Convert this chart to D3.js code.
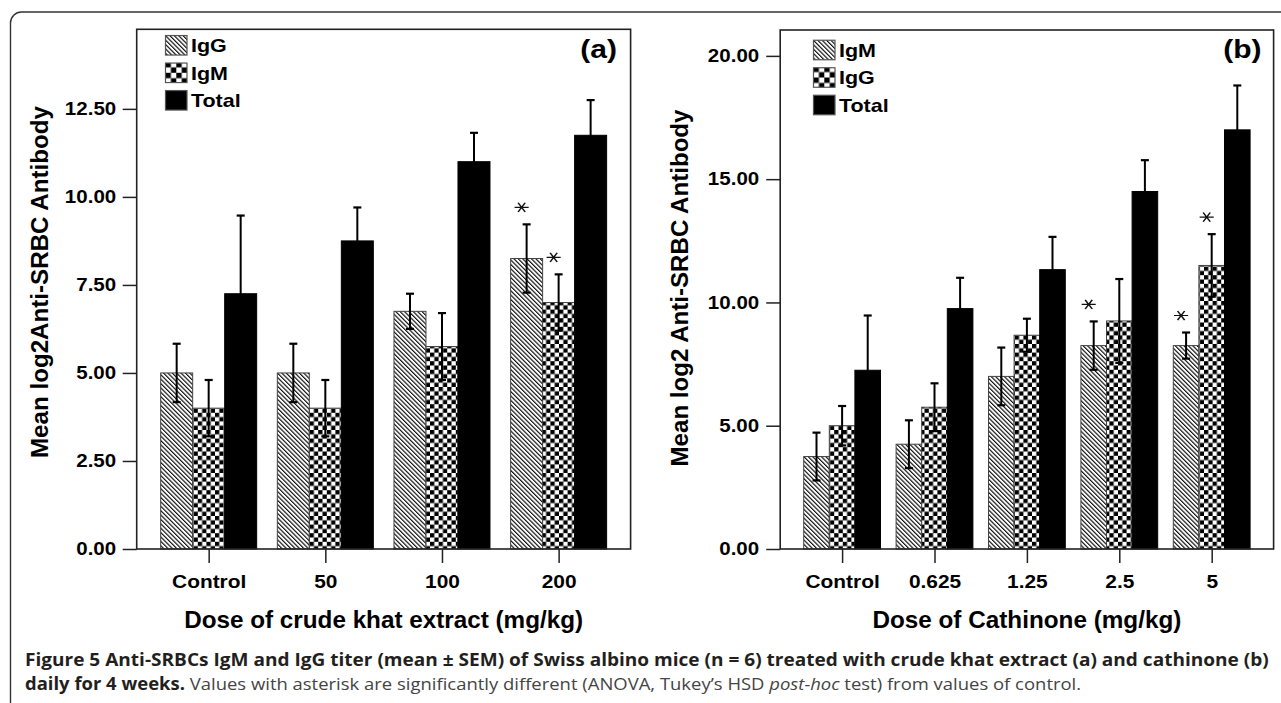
<!DOCTYPE html>
<html>
<head>
<meta charset="utf-8">
<script src="https://cdn.jsdelivr.net/npm/d3@7"></script>
<style>
  html, body { margin: 0; padding: 0; background: #fff; }
  svg { display: block; }
</style>
</head>
<body>
<svg id="chart" width="1281" height="703"></svg>
<script>
// panel (a): crude khat extract
const catsA = ['Control', '50', '100', '200'];
const seriesA = ['IgG', 'IgM', 'Total'];
const igGA = [5.0, 5.0, 6.75, 8.25];
const igGAErr = [0.83, 0.83, 0.5, 0.97];
const igMA = [4.0, 4.0, 5.75, 7.0];
const igMAErr = [0.8, 0.8, 0.95, 0.8];
const totalA = [7.25, 8.75, 11.0, 11.75];
const totalAErr = [2.22, 0.95, 0.82, 1.0];
const sigA = [{ s: 'IgG', c: '200' }, { s: 'IgM', c: '200' }];
const ticksA = [0, 2.5, 5, 7.5, 10, 12.5];

// panel (b): cathinone
const catsB = ['Control', '0.625', '1.25', '2.5', '5'];
const seriesB = ['IgM', 'IgG', 'Total'];
const igMB = [3.75, 4.25, 7.0, 8.25, 8.25];
const igMBErr = [0.97, 0.97, 1.17, 0.98, 0.53];
const igGB = [5.0, 5.75, 8.67, 9.25, 11.5];
const igGBErr = [0.8, 0.97, 0.67, 1.7, 1.27];
const totalB = [7.25, 9.75, 11.33, 14.5, 17.0];
const totalBErr = [2.22, 1.25, 1.33, 1.27, 1.8];
const sigB = [{ s: 'IgM', c: '2.5' }, { s: 'IgM', c: '5' }, { s: 'IgG', c: '5' }];
const ticksB = [0, 5, 10, 15, 20];

const fills = ['url(#hatch)', 'url(#checker)', '#000'];
const legendFills = ['url(#hatch)', 'url(#checkerBig)', '#000'];
const spss = "'Liberation Sans', Arial, sans-serif";

const svg = d3.select('#chart');

// squeeze/stretch a text run to k times its natural width
function stretch(sel, k) {
  sel.each(function () {
    const w = this.getComputedTextLength();
    d3.select(this).attr('textLength', w * k).attr('lengthAdjust', 'spacingAndGlyphs');
  });
}
function fitTo(sel, target) {
  sel.each(function () {
    d3.select(this).attr('textLength', target).attr('lengthAdjust', 'spacingAndGlyphs');
  });
}

const defs = svg.append('defs');
const hatch = defs.append('pattern')
  .attr('id', 'hatch')
  .attr('patternUnits', 'userSpaceOnUse')
  .attr('width', 3.1).attr('height', 3.1)
  .attr('patternTransform', 'rotate(-45)');
hatch.append('rect').attr('width', 3.1).attr('height', 3.1).attr('fill', '#fff');
hatch.append('line').attr('x1', 0.6).attr('x2', 0.6).attr('y1', 0).attr('y2', 3.1)
  .attr('stroke', '#000').attr('stroke-width', 1.1);

function checker(id, s) {
  const p = defs.append('pattern')
    .attr('id', id)
    .attr('patternUnits', 'userSpaceOnUse')
    .attr('width', 2 * s).attr('height', 2 * s);
  p.append('rect').attr('width', 2 * s).attr('height', 2 * s).attr('fill', '#fff');
  p.append('rect').attr('width', s).attr('height', s).attr('fill', '#000');
  p.append('rect').attr('x', s).attr('y', s).attr('width', s).attr('height', s).attr('fill', '#000');
}
checker('checker', 4.3);
checker('checkerBig', 5.4);

// outer figure frame (only left and top edges fall inside the image)
svg.append('rect')
  .attr('x', 10.5).attr('y', 12)
  .attr('width', 1400).attr('height', 800)
  .attr('rx', 11)
  .attr('fill', 'none')
  .attr('stroke', '#333')
  .attr('stroke-width', 1.4);

function drawPanel(p) {
  const g = svg.append('g');
  const x = d3.scalePoint().domain(p.cats).range([p.x0, p.x1]).padding(p.pad);
  const y = d3.scaleLinear().domain([0, p.yMax]).range([p.y1, p.y0]);
  const xs = d3.scaleBand().domain(p.series).range([-1.5 * p.barW, 1.5 * p.barW]);

  // y axis ticks
  const ya = g.append('g')
    .attr('transform', `translate(${p.x0},0)`)
    .call(d3.axisLeft(y).tickValues(p.ticks).tickFormat(d3.format('.2f')).tickSize(14).tickPadding(p.yPad));
  ya.select('.domain').remove();
  ya.selectAll('line').attr('stroke', '#222').attr('stroke-width', 1.5);
  ya.selectAll('text')
    .attr('font-family', spss).attr('font-weight', 'bold').attr('font-size', 18).attr('fill', '#000')
    .call(stretch, 1.14);

  // x axis ticks
  const xa = g.append('g')
    .attr('transform', `translate(0,${p.y1})`)
    .call(d3.axisBottom(x).tickSize(14).tickPadding(12));
  xa.select('.domain').remove();
  xa.selectAll('line').attr('stroke', '#222').attr('stroke-width', 1.5);
  xa.selectAll('text')
    .attr('font-family', spss).attr('font-weight', 'bold').attr('font-size', 18).attr('fill', '#000')
    .call(stretch, 1.16);

  // bars
  const rows = p.series.map((s, i) => p.cats.map((c, j) => ({
    s, c, i, v: p.values[i][j], e: p.errors[i][j]
  }))).flat();

  g.append('g')
    .selectAll('rect')
    .data(rows)
    .join('rect')
    .attr('x', d => x(d.c) + xs(d.s))
    .attr('y', d => y(d.v))
    .attr('width', xs.bandwidth())
    .attr('height', d => y(0) - y(d.v))
    .attr('fill', d => fills[d.i])
    .attr('stroke', d => d.i === 2 ? '#000' : '#444')
    .attr('stroke-width', 1);

  // error bars
  const eb = g.append('g')
    .selectAll('g')
    .data(rows)
    .join('g')
    .attr('transform', d => `translate(${x(d.c) + xs(d.s) + xs.bandwidth() / 2},0)`);
  eb.append('line')
    .attr('y1', d => y(d.v - d.e))
    .attr('y2', d => y(d.v + d.e))
    .attr('stroke', '#000').attr('stroke-width', 2);
  eb.append('line')
    .attr('x1', -4).attr('x2', 4)
    .attr('y1', d => y(d.v + d.e)).attr('y2', d => y(d.v + d.e))
    .attr('stroke', '#000').attr('stroke-width', 2.2);
  eb.append('line')
    .attr('x1', -4).attr('x2', 4)
    .attr('y1', d => y(d.v - d.e)).attr('y2', d => y(d.v - d.e))
    .attr('stroke', '#000').attr('stroke-width', 2.2);

  // significance asterisks
  const star = d3.symbol(d3.symbolAsterisk, 140);
  g.append('g')
    .selectAll('path')
    .data(p.sig.map(d => rows.find(r => r.s === d.s && r.c === d.c)))
    .join('path')
    .attr('d', star)
    .attr('transform', d => `translate(${x(d.c) + xs(d.s) + xs.bandwidth() / 2 - 5},${y(d.v + d.e) - 17}) scale(1,0.75) rotate(90)`)
    .attr('fill', 'none')
    .attr('stroke', '#111')
    .attr('stroke-width', 1.6);

  // plot frame
  g.append('rect')
    .attr('x', p.x0).attr('y', p.y0)
    .attr('width', p.x1 - p.x0).attr('height', p.y1 - p.y0)
    .attr('fill', 'none')
    .attr('stroke', '#222')
    .attr('stroke-width', 1.6);

  // legend
  const lg = g.append('g')
    .selectAll('g')
    .data(p.series)
    .join('g')
    .attr('transform', (d, i) => `translate(${p.lx},${p.ly + i * 27.5})`);
  lg.append('rect')
    .attr('x', 0).attr('y', -9.75)
    .attr('width', 21.5).attr('height', 19.5)
    .attr('fill', (d, i) => legendFills[i])
    .attr('stroke', '#555').attr('stroke-width', 1.2);
  lg.append('text')
    .attr('x', 25.5).attr('y', 6.8)
    .attr('font-family', spss).attr('font-weight', 'bold').attr('font-size', 18.5)
    .text(d => d)
    .call(stretch, 1.16);

  g.append('text')
    .attr('x', p.tagX).attr('y', 58)
    .attr('text-anchor', 'end')
    .attr('font-family', spss).attr('font-weight', 'bold').attr('font-size', 25)
    .text(p.tag)
    .call(stretch, 1.2);

  // axis titles
  g.append('text')
    .attr('transform', `translate(${p.ytX},${p.ytY}) rotate(-90)`)
    .attr('text-anchor', 'middle')
    .attr('font-family', spss).attr('font-weight', 'bold').attr('font-size', 24)
    .text(p.yTitle)
    .call(fitTo, p.ytLen);

  g.append('text')
    .attr('x', (p.x0 + p.x1) / 2).attr('y', 628)
    .attr('text-anchor', 'middle')
    .attr('font-family', spss).attr('font-weight', 'bold').attr('font-size', 24)
    .text(p.xTitle)
    .call(fitTo, p.xtLen);
}

drawPanel({
  cats: catsA, series: seriesA,
  values: [igGA, igMA, totalA], errors: [igGAErr, igMAErr, totalAErr],
  sig: sigA, ticks: ticksA,
  x0: 136.7, x1: 630.6, y0: 29.3, y1: 549, yMax: 14.76, pad: 0.617, barW: 32, yPad: 6.5,
  lx: 165.5, ly: 45.3, tag: '(a)', tagX: 617,
  yTitle: 'Mean log2Anti-SRBC Antibody', ytX: 48, ytY: 282, ytLen: 352,
  xTitle: 'Dose of crude khat extract (mg/kg)', xtLen: 399
});

drawPanel({
  cats: catsB, series: seriesB,
  values: [igMB, igGB, totalB], errors: [igMBErr, igGBErr, totalBErr],
  sig: sigB, ticks: ticksB,
  x0: 780.2, x1: 1273.6, y0: 30, y1: 549, yMax: 21.05, pad: 0.67, barW: 25.6, yPad: 7,
  lx: 813.5, ly: 50, tag: '(b)', tagX: 1261.5,
  yTitle: 'Mean log2 Anti-SRBC Antibody', ytX: 688, ytY: 288, ytLen: 357,
  xTitle: 'Dose of Cathinone (mg/kg)', xtLen: 309
});

// caption
const capFont = "'Open Sans', 'Noto Sans', sans-serif";
const cap1 = svg.append('text')
  .attr('font-family', capFont).attr('font-size', 17)
  .attr('font-weight', 'bold').attr('fill', '#231f20')
  .text('Figure 5 Anti-SRBCs IgM and IgG titer (mean \u00b1 SEM) of Swiss albino mice (n = 6) treated with crude khat extract (a) and cathinone (b)');

const cap2 = svg.append('text')
  .attr('font-family', capFont).attr('font-size', 17).attr('fill', '#444');
cap2.append('tspan').attr('font-weight', 'bold').attr('fill', '#231f20').text('daily for 4 weeks.');
cap2.append('tspan').text(' Values with asterisk are significantly different (ANOVA, Tukey\u2019s HSD ');
cap2.append('tspan').attr('font-style', 'italic').text('post-hoc');
cap2.append('tspan').text(' test) from values of control.');

function placeCaption(t, x, y, target) {
  const w = t.node().getComputedTextLength();
  t.attr('transform', `translate(${x},${y}) scale(${target / w},1)`);
}
placeCaption(cap1, 25, 666, 1244);
placeCaption(cap2, 25, 690, 1057);
</script>
</body>
</html>
